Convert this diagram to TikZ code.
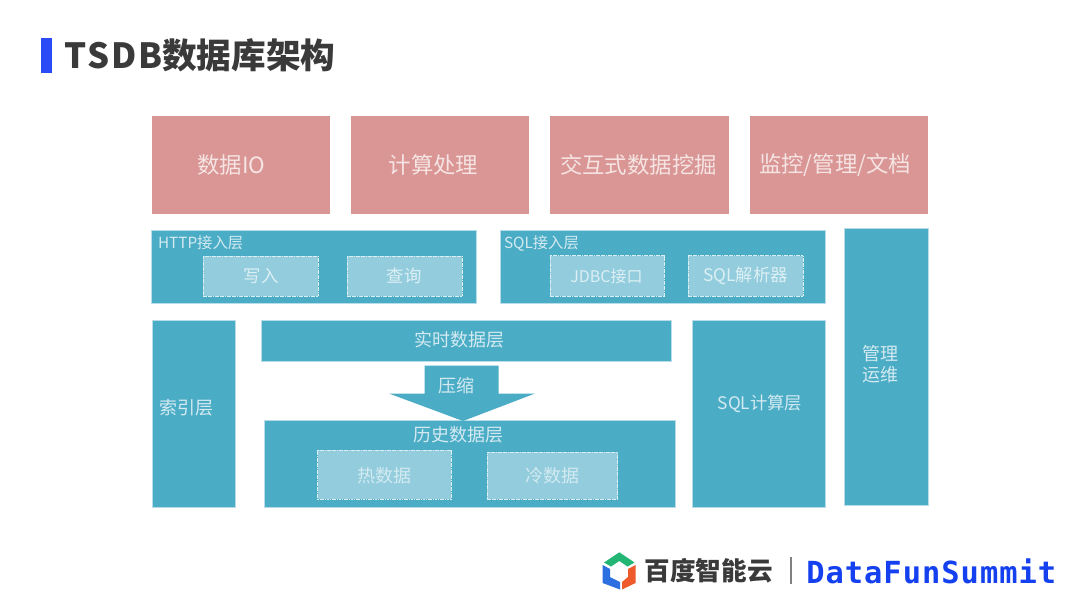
\documentclass[tikz,border=0pt]{standalone}
\usepackage{fontspec}
\setmainfont{Noto Sans CJK SC}
\newfontfamily\titlelatin[LetterSpace=5]{Noto Sans CJK SC}
\newfontfamily\dfmono[LetterSpace=3.3]{DejaVu Sans Mono}
\definecolor{pinkbox}{HTML}{D99694}
\definecolor{tealbox}{HTML}{4BACC6}
\definecolor{tealedge}{HTML}{B7DEE8}
\definecolor{lightbox}{HTML}{93CDDD}
\definecolor{paletext}{HTML}{D3EAF1}
\definecolor{subtext}{HTML}{DCEFF4}
\definecolor{pinktext}{HTML}{F5E4E3}
\definecolor{accent}{HTML}{2A4BF5}
\definecolor{inkdark}{HTML}{3A3A3A}
\definecolor{logogreen}{HTML}{22B573}
\definecolor{logoblue}{HTML}{2B6FE0}
\definecolor{logored}{HTML}{EE5A2B}
\definecolor{dfblue}{HTML}{1440F0}
\newcommand{\bx}[6]{%
  \node[#2, minimum width={(#5-#3)*0.75pt}, minimum height={(#6-#4)*0.75pt}]
    (#1) at ({(#3+#5)/2},{(#4+#6)/2}) {};}
\tikzset{
  basebox/.style={rectangle, inner sep=0pt, outer sep=0pt},
  pinkcard/.style={basebox, fill=pinkbox},
  tealcard/.style={basebox, fill=tealbox, draw=tealedge, line width=0.4pt},
  subcard/.style={basebox, fill=lightbox, draw=subtext, line width=0.4pt, dash pattern=on 1.3pt off 0.5pt},
  bigcap/.style={inner sep=0pt, outer sep=0pt, text=pinktext, font=\fontsize{16.8pt}{20pt}\selectfont},
  caption/.style={inner sep=0pt, outer sep=0pt, text=paletext, font=\fontsize{13.5pt}{16pt}\selectfont},
  subcap/.style={inner sep=0pt, outer sep=0pt, text=subtext, font=\fontsize{13pt}{16pt}\selectfont},
  smallcap/.style={inner sep=0pt, outer sep=0pt, anchor=west, text=paletext, font=\fontsize{11.5pt}{14pt}\selectfont},
}
\begin{document}
\begin{tikzpicture}[x=0.75pt,y=-0.75pt]
\useasboundingbox[fill=white] (0,0) rectangle (1080,608);
% title
\fill[accent] (41,38) rectangle (52,73);
\node[anchor=west,inner sep=0pt,text=inkdark,font=\fontsize{26pt}{30pt}\selectfont\bfseries] (title) at (64,55) {{\titlelatin TSDB}数据库架构};
% top row
\bx{io}{pinkcard}{152}{116}{330}{214}
\node[bigcap] (iolabel) at (231.5,165) {数据IO};
\bx{calc}{pinkcard}{351}{116}{529}{214}
\node[bigcap] (calclabel) at (433.5,165) {计算处理};
\bx{mine}{pinkcard}{550}{116}{729}{214}
\node[bigcap] (minelabel) at (638.5,165) {交互式数据挖掘};
\bx{mon}{pinkcard}{750}{116}{928}{214}
\node[bigcap] (monlabel) at (835,165) {监控/管理/文档};
% access layers
\bx{http}{tealcard}{151.5}{230}{476.5}{303}
\node[smallcap] (httplabel) at (158,243) {HTTP接入层};
\bx{write}{subcard}{203}{256}{318}{296}
\node[subcap] (writelabel) at (261,276) {写入};
\bx{query}{subcard}{347}{256}{462}{296}
\node[subcap] (querylabel) at (404,276) {查询};
\bx{sql}{tealcard}{500}{230}{825}{303}
\node[smallcap] (sqllabel) at (504,243) {SQL接入层};
\bx{jdbc}{subcard}{550}{255.5}{664}{296}
\node[subcap,font=\fontsize{12pt}{16pt}\selectfont] (jdbclabel) at (606.5,276) {JDBC接口};
\bx{parser}{subcard}{688}{255.5}{803}{296}
\node[subcap] (parserlabel) at (745.5,276) {SQL解析器};
% ops
\bx{ops}{tealcard}{844}{228}{928}{505}
\node[caption] (opslabel) at (880,353.5) {管理};
\node[caption] (opslabel2) at (880,374.5) {运维};
% lower
\bx{index}{tealcard}{152}{320}{235}{507}
\node[caption] (indexlabel) at (186.5,407.5) {索引层};
\bx{realtime}{tealcard}{261}{320}{671}{361}
\node[caption] (realtimelabel) at (459.5,339.5) {实时数据层};
\bx{history}{tealcard}{264}{420.5}{675}{507}
\node[caption] (historylabel) at (458,435) {历史数据层};
\bx{hot}{subcard}{317.5}{450}{451}{499}
\node[caption] (hotlabel) at (384.5,476) {热数据};
\bx{cold}{subcard}{487}{452}{617.5}{499}
\node[caption] (coldlabel) at (552,476) {冷数据};
\bx{sqlcalc}{tealcard}{692}{320}{825}{507}
\node[caption,font=\fontsize{13pt}{16pt}\selectfont] (sqlcalclabel) at (760,404) {SQL计算层};
% arrow
\fill[tealbox] (424.5,365.5) -- (498.5,365.5) -- (498.5,393.5) -- (535,393.5) -- (463,421) -- (389,393.5) -- (424.5,393.5) -- cycle;
\node[caption] (compress) at (456,386) {压缩};
% logo
\fill[logogreen] (604,562.5) -- (619.3,552.3) -- (634.5,562.5) -- (627.5,566.5) -- (619.3,561) -- (611,566.5) -- cycle;
\fill[logoblue] (602.7,565) -- (610,569) -- (610,577) -- (620,582) -- (620,589.5) -- (602.7,583) -- cycle;
\fill[logored] (635.5,565) -- (628,569) -- (628,577) -- (622,582) -- (622,589.5) -- (635.5,583) -- cycle;
\node[anchor=west,inner sep=0pt,text=inkdark,font=\fontsize{19.2pt}{22pt}\selectfont\bfseries] (baidu) at (644.5,570.5) {百度智能云};
\draw[gray,line width=0.8pt] (791,557) -- (791,584);
\node[anchor=west,inner sep=0pt,text=dfblue,font=\dfmono\bfseries\fontsize{22.8pt}{26pt}\selectfont] (df) at (806,571) {DataFunSummit};
\end{tikzpicture}
\end{document}
